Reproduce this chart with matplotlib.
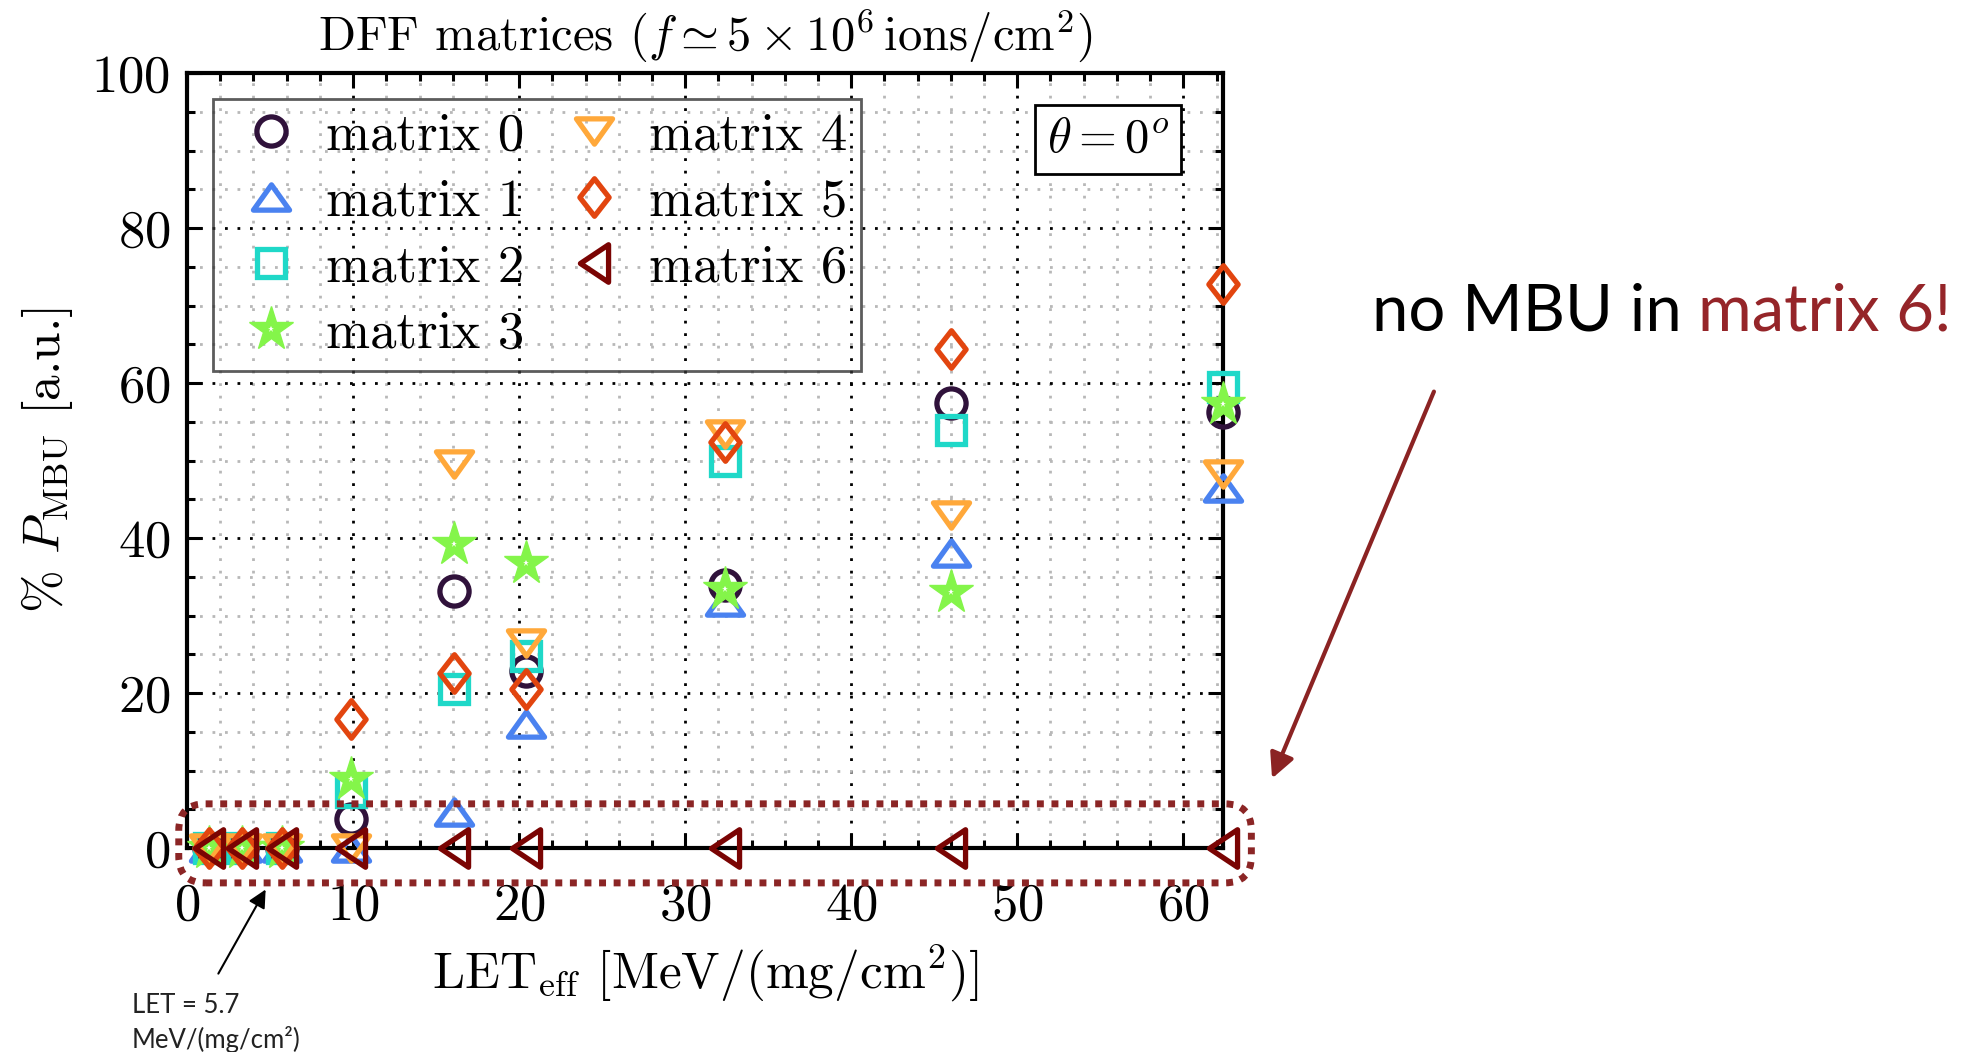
import matplotlib
matplotlib.use("Agg")
import matplotlib.pyplot as plt
import numpy as np
from matplotlib.path import Path
from matplotlib.patches import FancyBboxPatch, FancyArrowPatch

plt.rcParams['font.family'] = 'serif'
plt.rcParams['font.serif'] = ['cmr10']
plt.rcParams['mathtext.fontset'] = 'cm'
plt.rcParams['axes.formatter.use_mathtext'] = True

# data
let_eff = [1.3, 3.3, 5.7, 9.9, 16.1, 20.4, 32.4, 46.0, 62.4]
matrix0 = [0, 0, 0, 3.8, 33.2, 22.9, 33.9, 57.4, 56.2]
matrix1 = [0, 0, 0, 0, 4.6, 16.0, 31.7, 38.1, 46.5]
matrix2 = [0, 0, 0, 7.2, 20.5, 24.8, 49.9, 54.0, 59.5]
matrix3 = [0, 0, 0, 8.9, 39.2, 36.8, 33.4, 33.0, 57.3]
matrix4 = [0, 0, 0, 0, 49.5, 26.5, 53.4, 43.0, 48.3]
matrix5 = [0, 0, 0, 16.6, 22.6, 20.5, 52.4, 64.4, 72.8]
matrix6 = [0, 0, 0, 0, 0, 0, 0, 0, 0]
labels = ["matrix 0", "matrix 1", "matrix 2", "matrix 3", "matrix 4", "matrix 5", "matrix 6"]

C = [Path.MOVETO, Path.LINETO, Path.LINETO, Path.CLOSEPOLY]
tri_up = Path([(0, 0.7), (-1, -0.7), (1, -0.7), (0, 0.7)], C)
tri_down = Path([(0, -0.7), (-1, 0.7), (1, 0.7), (0, -0.7)], C)
tri_left = Path([(-0.75, 0), (0.75, 1), (0.75, -1), (-0.75, 0)], C)
diamond = Path([(0, 1), (0.78, 0), (0, -1), (-0.78, 0), (0, 1)],
               [Path.MOVETO, Path.LINETO, Path.LINETO, Path.LINETO, Path.CLOSEPOLY])

colors = ["#30123b", "#4a82f0", "#1fd8c8", "#84f54a", "#ffa83a", "#e2450f", "#7a0403"]
markers = ["o", tri_up, "s", "*", tri_down, diamond, tri_left]
sizes = [21, 26, 20, 33, 26, 27, 27]
series = [matrix0, matrix1, matrix2, matrix3, matrix4, matrix5, matrix6]

fig = plt.figure(figsize=(19.69, 10.52), dpi=100)
ax = fig.add_axes([0.0950, 0.1939, 0.5262, 0.7367])

handles = []
for i in range(7):
    if markers[i] == "*":
        h, = ax.plot(let_eff, series[i], linestyle="none", marker="*", markersize=sizes[i],
                     markerfacecolor=colors[i], markeredgecolor=colors[i], markeredgewidth=1,
                     clip_on=False, zorder=3 + i * 0.1)
        hw, = ax.plot(let_eff, series[i], linestyle="none", marker="*", markersize=5,
                      markerfacecolor="white", markeredgecolor="white", markeredgewidth=0,
                      clip_on=False, zorder=3 + i * 0.1 + 0.05)
        handles.append((h, hw))
    else:
        h, = ax.plot(let_eff, series[i], linestyle="none", marker=markers[i], markersize=sizes[i],
                     markerfacecolor="none", markeredgecolor=colors[i], markeredgewidth=3.8,
                     clip_on=False, zorder=3 + i * 0.1)
        handles.append(h)

ax.set_xlim(0, 62.4)
ax.set_ylim(0, 100)
ax.set_xticks(np.arange(0, 61, 10))
ax.set_xticks(np.arange(0, 62.4, 2), minor=True)
ax.set_yticks(np.arange(0, 101, 20))
ax.set_yticks(np.arange(0, 101, 5), minor=True)
ax.grid(which="major", color="black", linestyle=(0, (1, 3.5)), linewidth=2)
ax.grid(which="minor", color="#b8b8b8", linestyle=(0, (1, 3.5)), linewidth=2)
ax.set_axisbelow(True)

ax.tick_params(which="both", direction="in", top=True, right=True, width=2.2, labelsize=38)
ax.tick_params(which="major", length=11)
ax.tick_params(which="minor", length=6)
ax.tick_params(axis="x", pad=25)
ax.tick_params(axis="y", pad=12)
for s in ax.spines.values():
    s.set_linewidth(3)

ax.set_title(r"DFF matrices ($f \simeq 5\times10^{6}\,\mathrm{ions/cm}^{2}$)", fontsize=35, pad=17)
ax.set_xlabel(r"LET$_{\rm eff}$ [MeV/(mg/cm$^2$)]", fontsize=37, labelpad=9)
ax.set_ylabel(r"% $P_{\rm MBU}$ [a.u.]", fontsize=37, labelpad=12)

leg = ax.legend(handles, labels, ncol=2, loc="upper left", bbox_to_anchor=(0.025, 0.966),
                borderaxespad=0, fontsize=38, frameon=True, fancybox=False,
                handlelength=1.7, handletextpad=0.2, columnspacing=0.46,
                labelspacing=0.36, borderpad=0.25, numpoints=1)
leg.get_frame().set_facecolor("none")
leg.get_frame().set_edgecolor("#333333")
leg.get_frame().set_linewidth(2)

ax.text(0.889, 0.914, r"$\theta = 0^o$", transform=ax.transAxes, ha="center", va="center",
        fontsize=35, zorder=6,
        bbox=dict(boxstyle="square,pad=0.25", facecolor="white", edgecolor="black", linewidth=2))

# dotted loop around the matrix 6 row
loop = FancyBboxPatch((-0.5, -4.5), 64.6, 10.2, boxstyle="round,pad=0,rounding_size=1.6",
                      mutation_aspect=2.14, transform=ax.transData, fill=False,
                      edgecolor="#8b2525", linewidth=5, linestyle=(0, (1, 1.1)),
                      clip_on=False, zorder=7)
ax.add_patch(loop)

# annotations
fig.add_artist(FancyArrowPatch(posA=(0.7288, 0.6302), posB=(0.6455, 0.2576),
                               transform=fig.transFigure, arrowstyle="-|>,head_length=0.6,head_width=0.3",
                               mutation_scale=25, color="#8b2323", linewidth=3))
fig.add_artist(FancyArrowPatch(posA=(0.1102, 0.0722), posB=(0.1356, 0.1568),
                               transform=fig.transFigure, arrowstyle="-|>,head_length=0.6,head_width=0.3",
                               mutation_scale=18, color="black", linewidth=1.5))

fig.text(132 / 1969, 1 - 993 / 1052, "LET = 5.7\nMeV/(mg/cm²)", family="Lato",
         fontsize=18.5, va="top", ha="left", color="#222222", linespacing=1.35)

x0 = 1372 / 1969
yb = 1 - 330 / 1052
fs = 47
t1 = fig.text(x0, yb, "no MBU in", family="Lato", fontsize=fs, va="baseline", ha="left", color="black")
fig.canvas.draw()
r = fig.canvas.get_renderer()
tmp_a = fig.text(0, 0, "no MBU in m", family="Lato", fontsize=fs)
tmp_b = fig.text(0, 0, "m", family="Lato", fontsize=fs)
wa = tmp_a.get_window_extent(r).width
wb = tmp_b.get_window_extent(r).width
tmp_a.remove()
tmp_b.remove()
x1 = x0 + (wa - wb) / fig.bbox.width
fig.text(x1, yb, "matrix 6!", family="Lato", fontsize=fs, va="baseline", ha="left", color="#952529")

fig.savefig("out.png", dpi=100)
